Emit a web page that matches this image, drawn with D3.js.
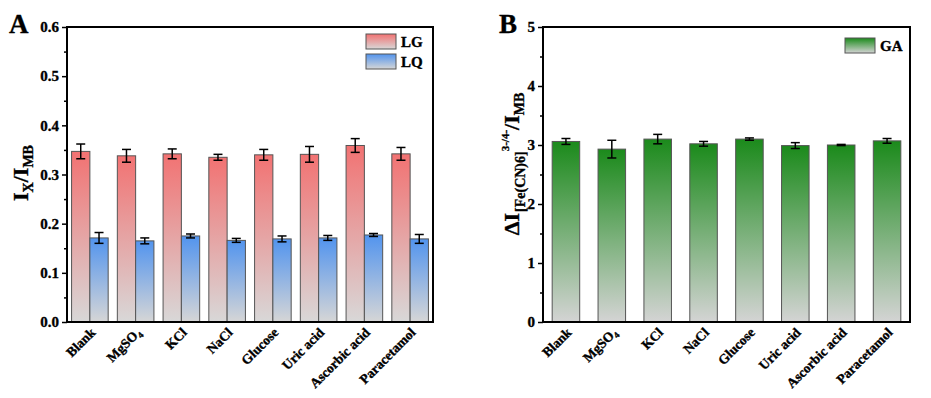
<!DOCTYPE html>
<html>
<head>
<meta charset="utf-8">
<script src="https://cdn.jsdelivr.net/npm/d3@7"></script>
<style>
  body { margin: 0; background: #fff; }
  svg { display: block; }
  svg text { font-family: "Liberation Serif", "DejaVu Serif", serif; font-weight: bold; fill: #000; stroke: #000; stroke-width: 0.35; }
</style>
</head>
<body>
<div id="graf"></div>
<script>
// Data
const categorias = ["Blank", "MgSO4", "KCl", "NaCl", "Glucose", "Uric acid", "Ascorbic acid", "Paracetamol"]
const lg = [0.347, 0.338, 0.342, 0.335, 0.340, 0.341, 0.359, 0.342]
const lgErr = [0.015, 0.013, 0.010, 0.006, 0.011, 0.016, 0.014, 0.013]
const lq = [0.171, 0.165, 0.175, 0.166, 0.169, 0.171, 0.177, 0.169]
const lqErr = [0.011, 0.006, 0.004, 0.004, 0.006, 0.005, 0.003, 0.009]
const ga = [3.06, 2.93, 3.10, 3.02, 3.10, 2.99, 3.00, 3.07]
const gaErr = [0.05, 0.15, 0.08, 0.04, 0.02, 0.05, 0.01, 0.04]
const ticksA = [0, 0.1, 0.2, 0.3, 0.4, 0.5, 0.6]
const ticksB = [0, 1, 2, 3, 4, 5]

const svg = d3.select("#graf").append("svg").attr("width", 931).attr("height", 398)

const defs = svg.append("defs")
const grad = (id, top, bottom) => {
  const lgd = defs.append("linearGradient").attr("id", id)
    .attr("x1", 0).attr("y1", 0).attr("x2", 0).attr("y2", 1)
  lgd.append("stop").attr("offset", "0%").attr("stop-color", top)
  lgd.append("stop").attr("offset", "100%").attr("stop-color", bottom)
}
grad("gRed", "#f27272", "#d8d8d8")
grad("gBlue", "#5294ee", "#d6d6d6")
grad("gGreen", "#1b8a1b", "#d4d4d4")

const panel = (opt) => {
  const { left, top, right, bottom } = opt
  const g = svg.append("g")
  const x = d3.scaleBand().domain(categorias).range([left, right])
  const y = d3.scaleLinear().domain(opt.domain).range([bottom, top])

  // barras
  opt.series.forEach((s) => {
    const bw = x.bandwidth() * s.frac
    const off = x.bandwidth() * s.start
    g.selectAll(null).data(s.values).join("rect")
      .attr("x", (d, i) => x(categorias[i]) + off)
      .attr("y", d => y(d))
      .attr("width", bw)
      .attr("height", d => bottom - y(d))
      .attr("fill", `url(#${s.grad})`)
      .attr("stroke", "#555")
      .attr("stroke-width", 1)
    // barras de error
    const cx = (i) => x(categorias[i]) + off + bw / 2
    const eb = g.selectAll(null).data(s.values).join("g")
    eb.append("line")
      .attr("x1", (d, i) => cx(i)).attr("x2", (d, i) => cx(i))
      .attr("y1", (d, i) => y(d + s.err[i])).attr("y2", (d, i) => y(d - s.err[i]))
    eb.append("line")
      .attr("x1", (d, i) => cx(i) - 4.5).attr("x2", (d, i) => cx(i) + 4.5)
      .attr("y1", (d, i) => y(d + s.err[i])).attr("y2", (d, i) => y(d + s.err[i]))
    eb.append("line")
      .attr("x1", (d, i) => cx(i) - 4.5).attr("x2", (d, i) => cx(i) + 4.5)
      .attr("y1", (d, i) => y(d - s.err[i])).attr("y2", (d, i) => y(d - s.err[i]))
    eb.selectAll("line").attr("stroke", "#000").attr("stroke-width", 1.5)
  })

  // marco
  g.append("rect").attr("x", left).attr("y", top)
    .attr("width", right - left).attr("height", bottom - top)
    .attr("fill", "none").attr("stroke", "#000").attr("stroke-width", 2)

  // eje y
  const ax = g.append("g").attr("transform", `translate(${left},0)`)
    .call(d3.axisLeft(y).tickValues(opt.ticks).tickFormat(opt.fmt).tickSize(5).tickPadding(3))
  ax.attr("font-family", null).attr("font-size", null)
  ax.select(".domain").remove()
  ax.selectAll(".tick line").attr("stroke-width", 1.5)
  ax.selectAll("text").style("font-size", "15px")
  const minor = opt.ticks.slice(1).map((t, i) => (t + opt.ticks[i]) / 2)
  const axm = g.append("g").attr("transform", `translate(${left},0)`)
    .call(d3.axisLeft(y).tickValues(minor).tickFormat("").tickSize(3))
  axm.select(".domain").remove()
  axm.selectAll(".tick line").attr("stroke-width", 1.5)

  // etiquetas x
  categorias.forEach((c) => {
    const tx = x(c) + x.bandwidth() / 2 + 3
    const t = g.append("text")
      .attr("transform", `translate(${tx},${bottom + 8}) rotate(-45)`)
      .attr("text-anchor", "end").style("font-size", "13.5px").attr("dy", "0.35em")
    if (c === "MgSO4") {
      t.append("tspan").text("MgSO")
      t.append("tspan").text("4").style("font-size", "9px").attr("dy", 3)
    } else t.text(c)
  })

  // letra
  g.append("text").attr("x", opt.letterX).attr("y", 33).style("font-size", "27px").text(opt.letter)

  // leyenda
  opt.legend.forEach((l, i) => {
    const ly = opt.legendY + i * 20
    g.append("rect").attr("x", opt.legendX).attr("y", ly).attr("width", 30).attr("height", 15)
      .attr("fill", `url(#${l.grad})`).attr("stroke", "#555").attr("stroke-width", 1)
    g.append("text").attr("x", opt.legendX + 35).attr("y", ly + 13).style("font-size", "15px").text(l.name)
  })
  return g
}

panel({
  left: 67, top: 27, right: 433, bottom: 322, domain: [0, 0.6], ticks: ticksA, fmt: d3.format(".1f"),
  series: [
    { values: lg, err: lgErr, grad: "gRed", start: 0.1, frac: 0.4 },
    { values: lq, err: lqErr, grad: "gBlue", start: 0.5, frac: 0.4 }
  ],
  letter: "A", letterX: 9, legend: [{ name: "LG", grad: "gRed" }, { name: "LQ", grad: "gBlue" }],
  legendX: 366, legendY: 34
})

panel({
  left: 543, top: 27, right: 910, bottom: 322, domain: [0, 5], ticks: ticksB, fmt: d3.format("d"),
  series: [{ values: ga, err: gaErr, grad: "gGreen", start: 0.2, frac: 0.6 }],
  letter: "B", letterX: 499, legend: [{ name: "GA", grad: "gGreen" }],
  legendX: 845, legendY: 38
})

// titulos y
const tA = svg.append("text").attr("transform", "translate(28,173) rotate(-90)")
  .attr("text-anchor", "middle").style("font-size", "22px")
tA.append("tspan").text("I")
tA.append("tspan").text("X").style("font-size", "14px").attr("dy", 5)
tA.append("tspan").text("/I").attr("dy", -5)
tA.append("tspan").text("MB").style("font-size", "14px").attr("dy", 5)

const tB = svg.append("text").attr("transform", "translate(519,164) rotate(-90)")
  .attr("text-anchor", "middle").style("font-size", "22px")
tB.append("tspan").text("ΔI")
tB.append("tspan").text("[Fe(CN)6]").style("font-size", "14px").attr("dx", 1).attr("dy", 6)
tB.append("tspan").text("3-/4-").style("font-size", "11px").attr("dy", -16)
tB.append("tspan").text("/I").attr("dy", 10)
tB.append("tspan").text("MB").style("font-size", "14px").attr("dy", 5)
</script>
</body>
</html>
